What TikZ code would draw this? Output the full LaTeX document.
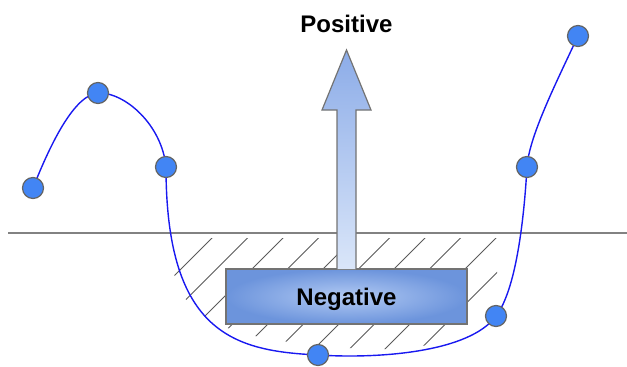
\documentclass[tikz,border=0pt]{standalone}
\usepackage{fontspec}
\setmainfont{Liberation Sans}
\definecolor{dotfill}{RGB}{66,133,244}
\definecolor{dotrim}{RGB}{100,100,100}
\definecolor{curveblue}{RGB}{25,25,240}
\definecolor{hatchgray}{RGB}{90,90,90}
\definecolor{boxrim}{RGB}{115,115,115}
\definecolor{boxin}{RGB}{178,202,243}
\definecolor{boxout}{RGB}{108,148,220}
\definecolor{arrtop}{RGB}{140,172,232}
\definecolor{arrbot}{RGB}{218,230,249}
\definecolor{basegray}{RGB}{130,130,130}
\begin{document}
\begin{tikzpicture}[x=1pt,y=-1pt,
  ptdot/.style={circle,draw=dotrim,line width=1.2pt,fill=dotfill,minimum size=21pt,inner sep=0pt},
  bluecurve/.style={draw=curveblue,line width=1.4pt},
  hatchline/.style={draw=hatchgray,line width=0.9pt},
  lbl/.style={font=\fontsize{24}{24}\selectfont\bfseries,text=black},
  rimline/.style={draw=boxrim,line width=1.2pt}]
\useasboundingbox (0,0) rectangle (627,367);
% baseline
\coordinate (bl) at (8,233);
\coordinate (br) at (627,233);
\draw[draw=basegray,line width=1.5pt] (bl) -- (br);
% hatching
\begin{scope}
\clip (172,238) -- (172,262) .. controls (176,300) and (200,325) .. (260,337)
  .. controls (300,345) and (350,350) .. (400,349)
  .. controls (440,346) and (480,330) .. (497,300) -- (497,238) -- cycle;
\foreach \c in {450,485.5,...,806} {
  \draw[hatchline] (\c-230,230) -- (\c-380,380);
}
\end{scope}
% curve points
\coordinate (c1) at (33,188);
\coordinate (c2) at (98,93);
\coordinate (c3) at (166,167);
\coordinate (c4) at (318,355);
\coordinate (c5) at (496,316);
\coordinate (c6) at (527,167);
\coordinate (c7) at (578,36);
\draw[bluecurve] (c1) .. controls (52,140) and (75,95) .. (c2)
  .. controls (125,92) and (162,125) .. (c3)
  .. controls (166,335) and (236,351) .. (c4)
  .. controls (380,359) and (470,352) .. (c5)
  .. controls (516,290) and (524,220) .. (c6)
  .. controls (529,137) and (555,85) .. (c7);
% box
\node[rimline,inner color=boxin,outer color=boxout,minimum width=241pt,minimum height=55pt,text depth=0pt,lbl] (neg) at (346.5,296.5) {Negative};
% arrow
\shade[top color=arrtop,bottom color=arrbot] (337,269) -- (337,110) -- (322,110) -- (346.5,50) -- (371,110) -- (356,110) -- (356,269) -- cycle;
\draw[rimline,line join=miter] (337,269) -- (337,110) -- (322,110) -- (346.5,50) -- (371,110) -- (356,110) -- (356,269);
\node[lbl,anchor=base] (pos) at (346.5,32) {Positive};
% dots
\node[ptdot] (p1) at (c1) {};
\node[ptdot] (p2) at (c2) {};
\node[ptdot] (p3) at (c3) {};
\node[ptdot] (p4) at (c4) {};
\node[ptdot] (p5) at (c5) {};
\node[ptdot] (p6) at (c6) {};
\node[ptdot] (p7) at (c7) {};
\end{tikzpicture}
\end{document}
